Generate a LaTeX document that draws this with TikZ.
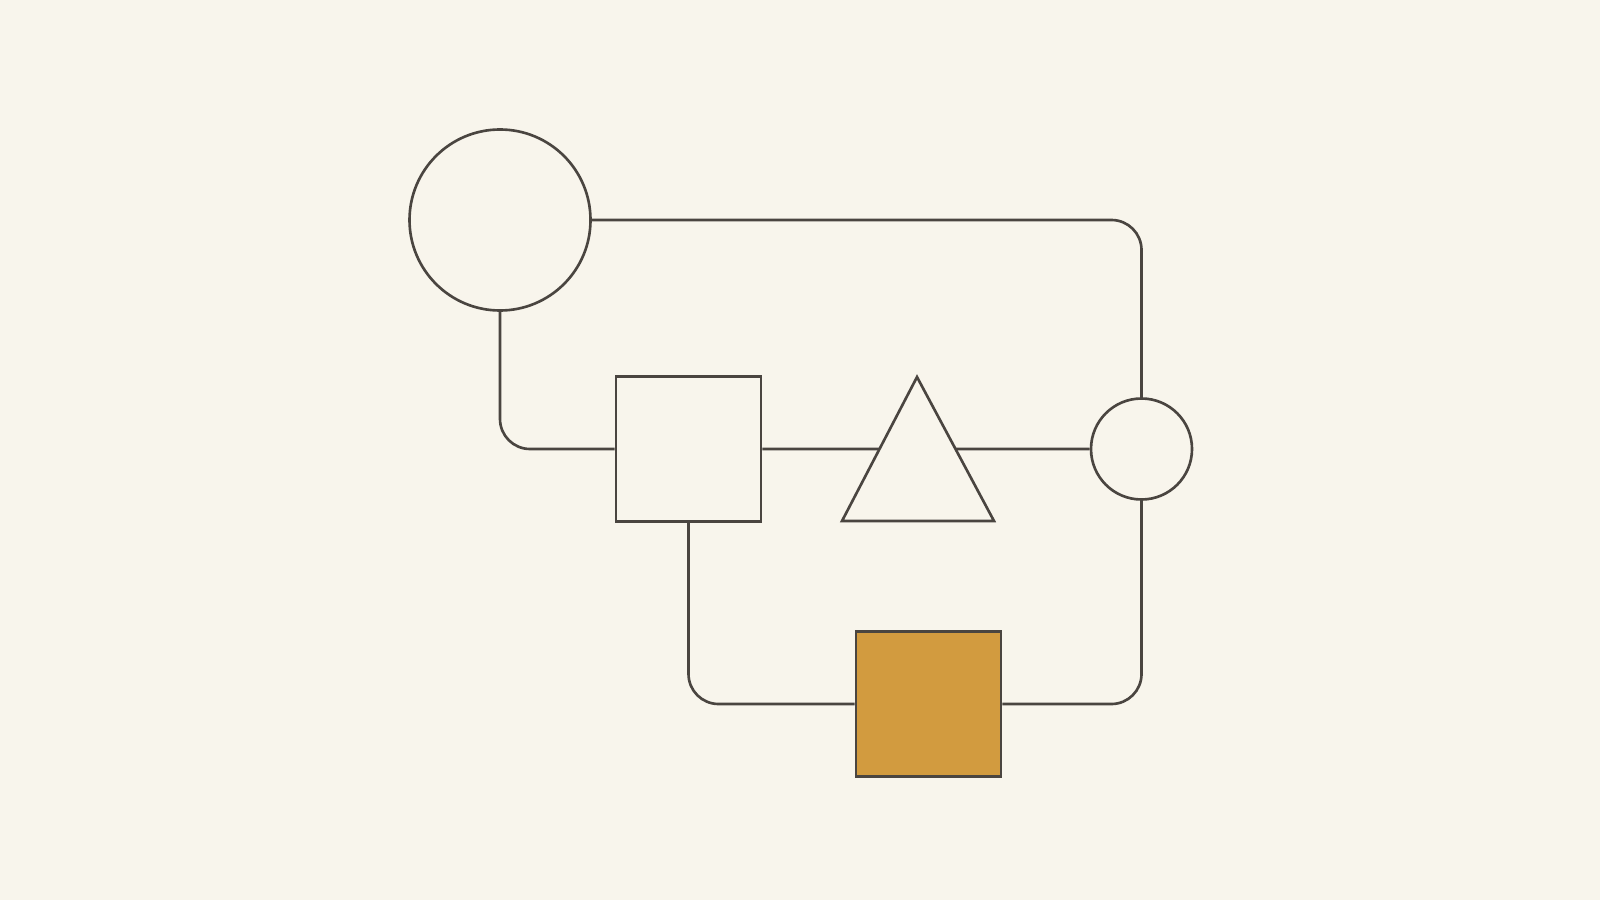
\documentclass[tikz,border=0pt]{standalone}
\usepackage{tikz}
\usetikzlibrary{positioning, calc}

\definecolor{paper}{HTML}{F8F5EC}
\definecolor{ink}{HTML}{4A4540}
\definecolor{gold}{HTML}{D29B3F}

\begin{document}
\begin{tikzpicture}[
  shapeline/.style={draw=ink, line width=0.75pt},
  wire/.style={draw=ink, line width=0.75pt, rounded corners=0.3cm}
]
  % Paper
  \fill[paper] (0,0) rectangle (16,9);
  \useasboundingbox (0,0) rectangle (16,9);

  % Circles
  \node[shapeline, circle, minimum size=1.81cm, inner sep=0pt] (bigc) at (5.0,6.8) {};
  \node[shapeline, circle, minimum size=1.01cm, inner sep=0pt] (smallc) at (11.415,4.51) {};

  % Squares
  \node[shapeline, minimum size=1.45cm, inner sep=0pt] (sq) at (6.885,4.51) {};
  \node[shapeline, fill=gold, minimum size=1.45cm, inner sep=0pt] (goldsq) at (9.285,1.96) {};

  % Triangle
  \coordinate (apex) at (9.17,5.23);
  \coordinate (bl) at (8.42,3.79);
  \coordinate (br) at (9.94,3.79);
  \draw[shapeline, line join=miter] (apex) -- (bl) -- (br) -- cycle;
  \coordinate (tl) at ($(apex)!0.5!(bl)$);
  \coordinate (tr) at ($(apex)!0.5!(br)$);

  % Wires
  \draw[wire] (bigc.east) -| (smallc.north);
  \draw[wire] (bigc.south) |- (sq.west);
  \draw[wire] (sq.east) -- (tl);
  \draw[wire] (tr) -- (smallc.west);
  \draw[wire] (sq.south) |- (goldsq.west);
  \draw[wire] (goldsq.east) -| (smallc.south);
\end{tikzpicture}
\end{document}
